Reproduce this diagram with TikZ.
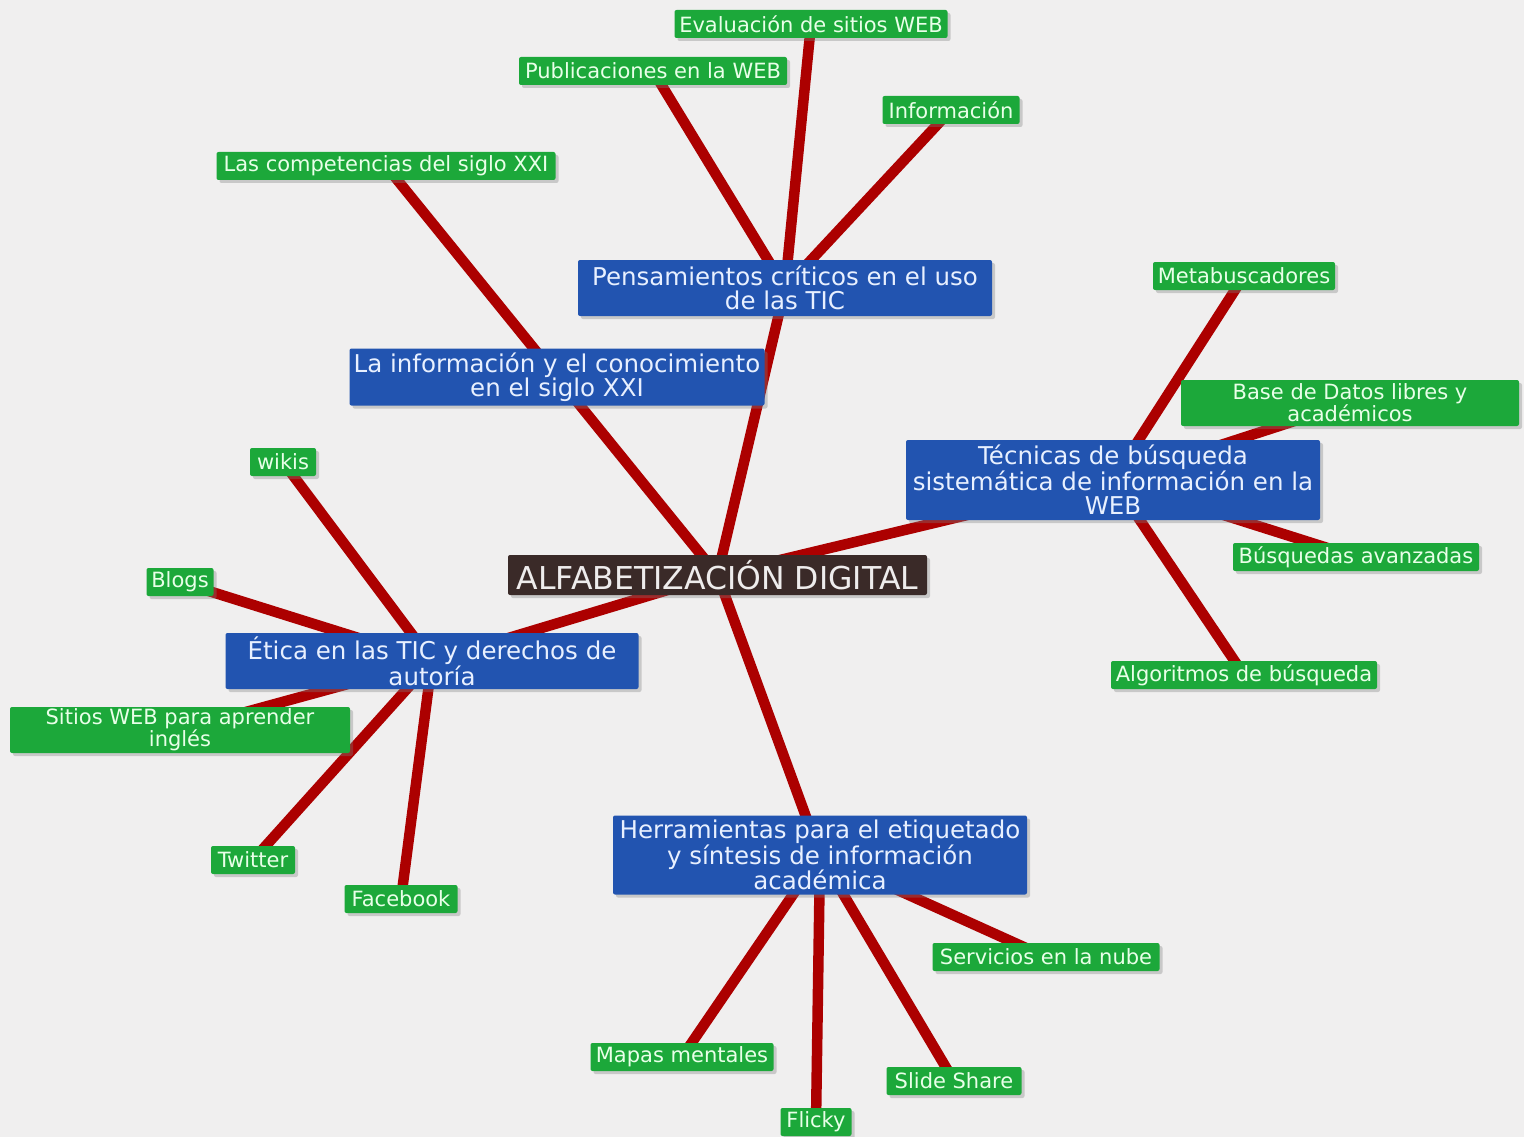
\documentclass[tikz,border=0pt]{standalone}
\usepackage{fontspec}
\setmainfont{DejaVu Sans}
\usetikzlibrary{shadows,backgrounds}
\definecolor{bg}{RGB}{240,239,239}
\definecolor{bluebox}{RGB}{34,84,176}
\definecolor{bluetext}{RGB}{232,240,255}
\definecolor{greenbox}{RGB}{28,168,58}
\definecolor{greentext}{RGB}{232,255,232}
\definecolor{centerbox}{RGB}{58,42,40}
\definecolor{centertext}{RGB}{238,236,236}
\definecolor{linkred}{RGB}{172,0,0}
\begin{document}
\begin{tikzpicture}[x=1pt,y=-1pt,
  box/.style={rounded corners=2pt, inner sep=0pt, align=center,
    drop shadow={opacity=0.35,shadow xshift=3pt,shadow yshift=-3pt}},
  mainbox/.style={box, fill=bluebox, text=bluetext, font=\fontsize{24.5}{24}\selectfont, minimum width=414pt},
  leaf/.style={box, fill=greenbox, text=greentext, font=\fontsize{21}{21}\selectfont, minimum height=28pt},
  link/.style={draw=linkred, line width=10.5pt}]
\useasboundingbox (0,0) rectangle (1524,1137);
% nodes
\node[box, fill=centerbox, text=centertext, font=\fontsize{31.5}{30}\selectfont,
  minimum width=419pt, minimum height=40pt] (root) at (717.5,575) {ALFABETIZACIÓN DIGITAL};
\node[mainbox, minimum height=56pt] (pens) at (785,288) {Pensamientos críticos en el uso\\de las TIC};
\node[mainbox, minimum width=415pt, minimum height=57pt] (info) at (557,377) {La información y el conocimiento\\en el siglo XXI};
\node[mainbox, minimum height=80pt] (tec) at (1113,480) {Técnicas de búsqueda\\sistemática de información en la\\WEB};
\node[mainbox, minimum width=413pt, minimum height=56pt] (etica) at (432,661) {Ética en las TIC y derechos de\\autoría};
\node[mainbox, minimum height=79pt] (herr) at (820,855) {Herramientas para el etiquetado\\y síntesis de información\\académica};
% leaves
\node[leaf, minimum width=273pt] (eval) at (811,24) {Evaluación de sitios WEB};
\node[leaf, minimum width=268pt] (publ) at (653,71) {Publicaciones en la WEB};
\node[leaf, minimum width=137pt] (infor) at (951,110) {Información};
\node[leaf, minimum width=339pt] (comp) at (386,166) {Las competencias del siglo XXI};
\node[leaf, minimum width=182pt] (meta) at (1244,276) {Metabuscadores};
\node[leaf, minimum width=338pt, minimum height=46pt] (base) at (1350,403) {Base de Datos libres y\\académicos};
\node[leaf, minimum width=246pt] (busq) at (1356,557) {Búsquedas avanzadas};
\node[leaf, minimum width=266pt] (algo) at (1244,675) {Algoritmos de búsqueda};
\node[leaf, minimum width=66pt] (wikis) at (283,462) {wikis};
\node[leaf, minimum width=67pt] (blogs) at (180,582) {Blogs};
\node[leaf, minimum width=340pt, minimum height=46pt] (sitios) at (180,730) {Sitios WEB para aprender\\inglés};
\node[leaf, minimum width=84pt] (twit) at (253,860) {Twitter};
\node[leaf, minimum width=113pt] (face) at (401,899) {Facebook};
\node[leaf, minimum width=227pt] (serv) at (1046,957) {Servicios en la nube};
\node[leaf, minimum width=183pt] (mapas) at (682,1057) {Mapas mentales};
\node[leaf, minimum width=135pt] (slide) at (954,1081) {Slide Share};
\node[leaf, minimum width=71pt] (flicky) at (816,1122) {Flicky};
% background and connectors
\begin{scope}[on background layer]
\fill[bg] (0,0) rectangle (1524,1137);
\draw[link] (root.center) -- (pens.center);
\draw[link] (root.center) -- (info.center);
\draw[link] (root.center) -- (tec.center);
\draw[link] (root.center) -- (etica.center);
\draw[link] (root.center) -- (herr.center);
\draw[link] (pens.center) -- (eval.center);
\draw[link] (pens.center) -- (publ.center);
\draw[link] (pens.center) -- (infor.center);
\draw[link] (info.center) -- (comp.center);
\draw[link] (tec.center) -- (meta.center);
\draw[link] (tec.center) -- (base.center);
\draw[link] (tec.center) -- (busq.center);
\draw[link] (tec.center) -- (algo.center);
\draw[link] (etica.center) -- (wikis.center);
\draw[link] (etica.center) -- (blogs.center);
\draw[link] (etica.center) -- (sitios.center);
\draw[link] (etica.center) -- (twit.center);
\draw[link] (etica.center) -- (face.center);
\draw[link] (herr.center) -- (serv.center);
\draw[link] (herr.center) -- (mapas.center);
\draw[link] (herr.center) -- (slide.center);
\draw[link] (herr.center) -- (flicky.center);
\end{scope}
\end{tikzpicture}
\end{document}
